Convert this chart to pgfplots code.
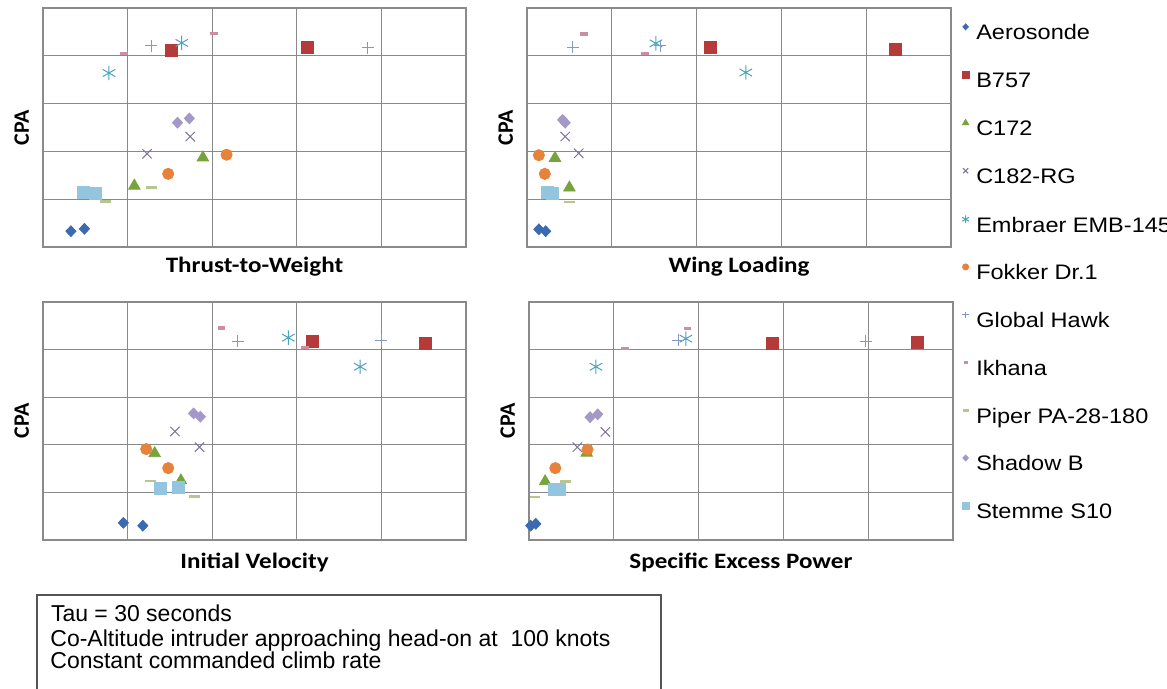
\documentclass[border=0pt]{standalone}
\usepackage{pgfplots}
\pgfplotsset{compat=1.18}
\usepackage{fontspec}
\setmainfont{Liberation Sans}
\newfontfamily\legfont[FakeStretch=1.12]{Liberation Sans}
\newfontfamily\labfont[FakeStretch=1.14]{Carlito}
\newfontfamily\ylabfont{Carlito}

\definecolor{gridgray}{HTML}{8A8A8A}
\definecolor{boxgray}{HTML}{555555}
\definecolor{caero}{HTML}{3C6AB0}
\definecolor{cb757}{HTML}{B53A3A}
\definecolor{cc172}{HTML}{77A33C}
\definecolor{cc182}{HTML}{7F7199}
\definecolor{cemb}{HTML}{4BA3BF}
\definecolor{cfok}{HTML}{E6823A}
\definecolor{cgh}{HTML}{8497C8}
\definecolor{cikh}{HTML}{CC8EA0}
\definecolor{cpip}{HTML}{B7C68F}
\definecolor{csha}{HTML}{A498C8}
\definecolor{cste}{HTML}{93C5DE}

\pgfplotsset{
  panel/.style={
    scale only axis, anchor=south west,
    xmin=0, xmax=5, ymin=0, ymax=5,
    xtick={0,...,5}, ytick={0,...,5},
    xticklabels={}, yticklabels={},
    tick style={draw=none},
    grid=major,
    major grid style={color=gridgray, line width=0.6pt},
    axis line style={color=gridgray, line width=0.6pt},
    clip=false,
    ylabel={CPA},
    every axis y label/.style={at={(axis description cs:-0.05,0.5)}, rotate=90, anchor=center,
      font=\ylabfont\bfseries\fontsize{11}{13}\selectfont},
    every axis x label/.style={at={(axis description cs:0.5,0)}, anchor=base,
      font=\labfont\bfseries\fontsize{11}{13}\selectfont},
  },
  mk/.style={only marks, legend image code/.code={\draw[##1] plot coordinates {(0pt,0pt)};}},
  saero/.style={mk, mark=diamond*, color=caero, mark size=2.7pt, mark options={xscale=1.25}},
  sb757/.style={mk, mark=square*, color=cb757, mark size=3pt},
  sc172/.style={mk, mark=triangle*, color=cc172, mark size=3.3pt},
  sc182/.style={mk, mark=x, color=cc182, mark size=3.3pt, mark options={line width=0.5pt}},
  semb/.style={mk, mark=asterisk, color=cemb, mark size=3.6pt, mark options={line width=0.5pt}},
  sfok/.style={mk, mark=*, color=cfok, mark size=2.8pt},
  sgh/.style={mk, mark=+, color=cgh, mark size=3pt, mark options={line width=0.5pt}},
  sikh/.style={mk, mark=-, color=cikh, mark size=1.9pt, mark options={line width=1.7pt}},
  spip/.style={mk, mark=-, color=cpip, mark size=2.7pt, mark options={line width=1.3pt}},
  ssha/.style={mk, mark=diamond*, color=csha, mark size=2.7pt, mark options={xscale=1.25}},
  sste/.style={mk, mark=square*, color=cste, mark size=3pt},
}

\begin{document}
\begin{tikzpicture}
\path[use as bounding box, clip] (0,0) rectangle (583.5pt,344.5pt);

% Panel 1: Thrust-to-Weight
\begin{axis}[panel, at={(21.5pt,221pt)}, width=211.5pt, height=119.5pt,
  xlabel={Thrust-to-Weight}, xlabel style={yshift=-12.85pt}]
\addplot[saero] coordinates {(0.33,0.33) (0.49,0.38)};
\addplot[sb757] coordinates {(1.52,4.12) (3.13,4.17)};
\addplot[sc172] coordinates {(1.08,1.28) (1.89,1.87)};
\addplot[sc182] coordinates {(1.23,1.95) (1.74,2.31)};
\addplot[semb] coordinates {(0.78,3.64) (1.64,4.27)};
\addplot[sfok] coordinates {(1.48,1.53) (2.17,1.93)};
\addplot[sgh] coordinates {(1.28,4.21) (3.84,4.17)};
\addplot[sikh] coordinates {(0.96,4.05) (2.02,4.46)};
\addplot[spip] coordinates {(1.28,1.25) (0.74,0.95)};
\addplot[ssha] coordinates {(1.59,2.60) (1.73,2.69)};
\addplot[sste] coordinates {(0.48,1.14) (0.62,1.12)};
\end{axis}

% Panel 2: Wing Loading (with legend)
\begin{axis}[panel, at={(263.5pt,221pt)}, width=212pt, height=119.5pt,
  xlabel={Wing Loading}, xlabel style={yshift=-12.85pt},
  legend cell align=left,
  legend image post style={yshift=3.7pt, scale=0.55},
  legend style={draw=none, fill=none, inner sep=0pt, outer sep=0pt,
    at={(1.0264,0.934)}, anchor=north west,
    font=\legfont\fontsize{10.5}{12}\selectfont,
    row sep=13.35pt,
    nodes={inner sep=0pt, text height=8pt, text depth=2.5pt},
    /tikz/every odd column/.append style={column sep=3.6pt}},
  ]
\addplot[saero] coordinates {(0.14,0.37) (0.22,0.33)};
\addlegendentry{Aerosonde}
\addplot[sb757] coordinates {(2.16,4.18) (4.35,4.14)};
\addlegendentry{B757}
\addplot[sc172] coordinates {(0.33,1.86) (0.50,1.24)};
\addlegendentry{C172}
\addplot[sc182] coordinates {(0.45,2.31) (0.61,1.96)};
\addlegendentry{C182-RG}
\addplot[semb] coordinates {(2.58,3.65) (1.52,4.26)};
\addlegendentry{Embraer EMB-145}
\addplot[sfok] coordinates {(0.14,1.92) (0.21,1.53)};
\addlegendentry{Fokker Dr.1}
\addplot[sgh] coordinates {(0.54,4.18) (1.57,4.21)};
\addlegendentry{Global Hawk}
\addplot[sikh] coordinates {(0.67,4.46) (1.39,4.05)};
\addlegendentry{Ikhana}
\addplot[spip] coordinates {(0.50,0.94) (0.30,1.15)};
\addlegendentry{Piper PA-28-180}
\addplot[ssha] coordinates {(0.42,2.66) (0.45,2.60)};
\addlegendentry{Shadow B}
\addplot[sste] coordinates {(0.24,1.14) (0.30,1.12)};
\addlegendentry{Stemme S10}
\end{axis}

% Panel 3: Initial Velocity
\begin{axis}[panel, at={(21.5pt,74.5pt)}, width=211.5pt, height=119pt,
  xlabel={Initial Velocity}, xlabel style={yshift=-14.2pt}]
\addplot[saero] coordinates {(0.95,0.36) (1.18,0.30)};
\addplot[sb757] coordinates {(3.18,4.17) (4.52,4.13)};
\addplot[sc172] coordinates {(1.32,1.82) (1.63,1.25)};
\addplot[sc182] coordinates {(1.56,2.28) (1.85,1.95)};
\addplot[semb] coordinates {(2.90,4.25) (3.75,3.64)};
\addplot[sfok] coordinates {(1.22,1.91) (1.48,1.51)};
\addplot[sgh] coordinates {(2.30,4.18) (4.00,4.20)};
\addplot[sikh] coordinates {(2.11,4.45) (3.10,4.04)};
\addplot[spip] coordinates {(1.27,1.24) (1.79,0.92)};
\addplot[ssha] coordinates {(1.78,2.66) (1.86,2.59)};
\addplot[sste] coordinates {(1.39,1.09) (1.60,1.11)};
\end{axis}

% Panel 4: Specific Excess Power
\begin{axis}[panel, at={(264.5pt,74.5pt)}, width=212pt, height=119pt,
  xlabel={Specific Excess Power}, xlabel style={yshift=-14.2pt}]
\addplot[saero] coordinates {(0.02,0.30) (0.08,0.34)};
\addplot[sb757] coordinates {(2.87,4.14) (4.58,4.16)};
\addplot[sc172] coordinates {(0.19,1.23) (0.68,1.83)};
\addplot[sc182] coordinates {(0.57,1.95) (0.90,2.27)};
\addplot[semb] coordinates {(0.79,3.64) (1.85,4.23)};
\addplot[sfok] coordinates {(0.31,1.51) (0.69,1.90)};
\addplot[sgh] coordinates {(1.76,4.20) (3.97,4.18)};
\addplot[sikh] coordinates {(1.13,4.02) (1.87,4.44)};
\addplot[spip] coordinates {(0.07,0.90) (0.43,1.23)};
\addplot[ssha] coordinates {(0.72,2.58) (0.81,2.64)};
\addplot[sste] coordinates {(0.30,1.07) (0.36,1.07)};
\end{axis}

% Note box
\draw[color=boxgray, line width=0.6pt] (18.5pt,47pt) rectangle (330.5pt,-10pt);
\begin{scope}[every node/.style={anchor=base west, inner sep=0pt, font=\fontsize{11.5}{13}\selectfont}]
\node at (25.3pt,33.5pt) {Tau = 30 seconds};
\node at (25pt,21pt) {Co-Altitude intruder approaching head-on at\ \ 100 knots};
\node at (25pt,10pt) {Constant commanded climb rate};
\end{scope}
\end{tikzpicture}
\end{document}
